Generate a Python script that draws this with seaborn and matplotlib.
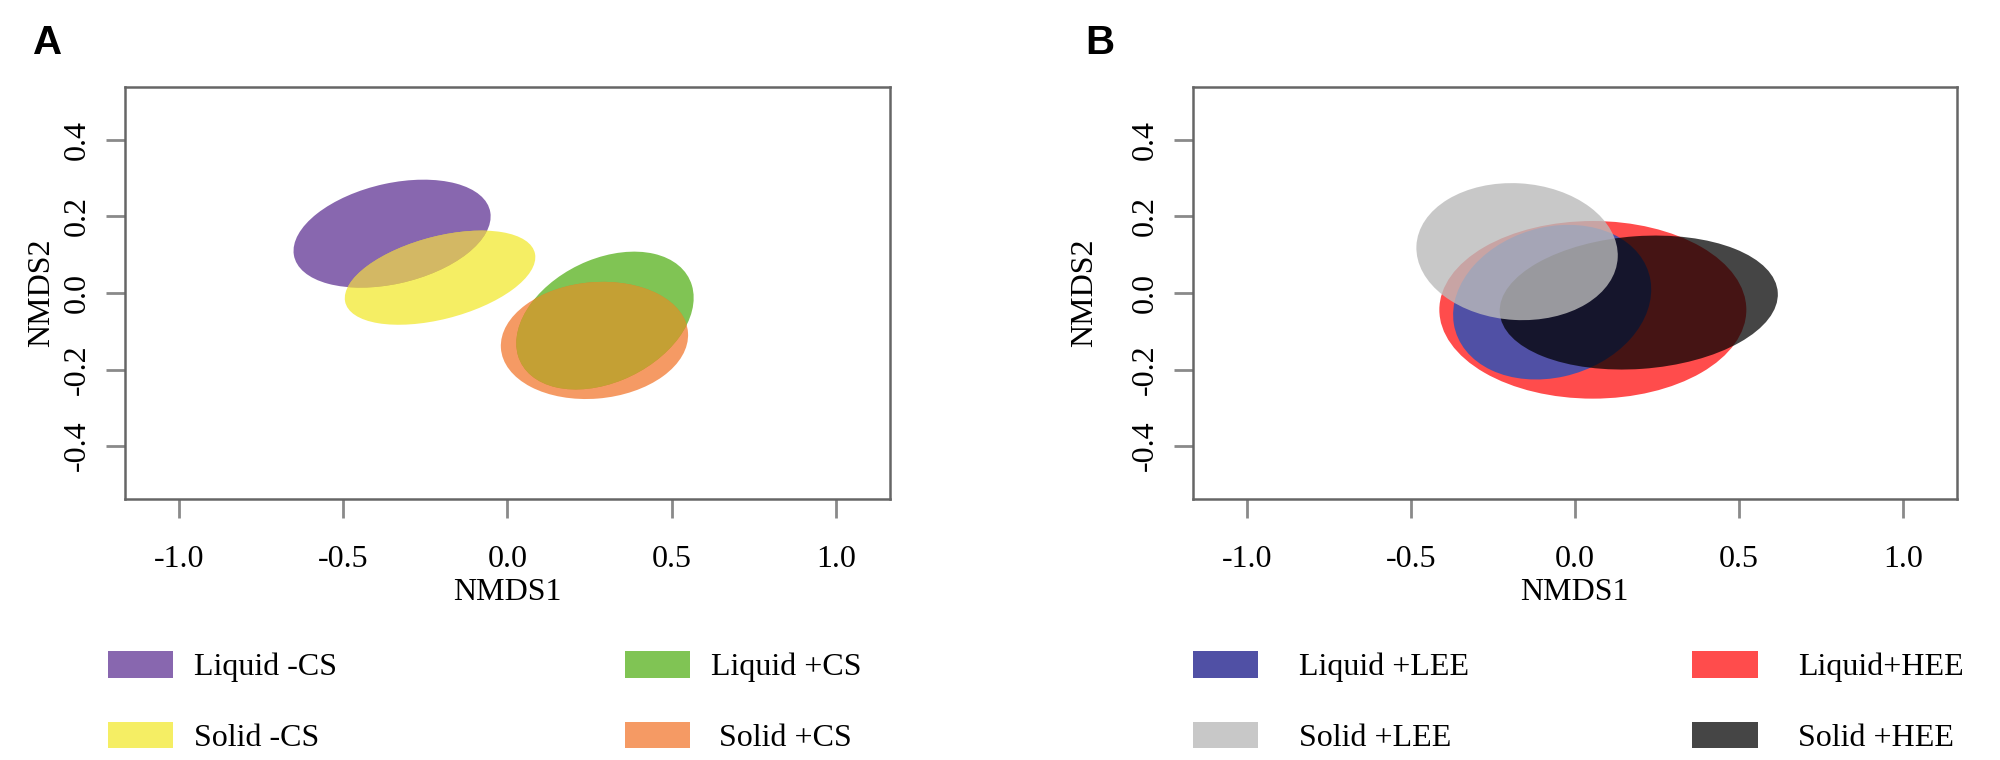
import numpy as np
import matplotlib
matplotlib.use("Agg")
import matplotlib.pyplot as plt
from matplotlib.patches import Ellipse, Patch
import seaborn as sns

# panel A: ordination ellipses (centre, half extent along x / y, covariance term)
groups_a = ["Liquid -CS", "Solid -CS", "Liquid +CS", " Solid +CS"]
cx_a = [-0.351, -0.205, 0.297, 0.265]
cy_a = [0.155, 0.040, -0.072, -0.124]
ex_a = [0.300, 0.290, 0.270, 0.285]
ey_a = [0.141, 0.123, 0.180, 0.153]
cxy_a = [0.0135, 0.0155, 0.016, 0.004]
colors_a = ["#56278D", "#F1E722", "#4AAB0B", "#F17022"]
alpha_a = [0.7, 0.7, 0.7, 0.7]
# colour where two ellipses overlap (index pairs into the lists above)
overlap_a = [(0, 1, "#D3B864"), (2, 3, "#C4A034")]

# panel B
groups_b = ["Liquid+HEE", "Liquid +LEE", "Solid +HEE", "Solid +LEE"]
cx_b = [0.055, -0.069, 0.195, -0.176]
cy_b = [-0.044, -0.024, -0.025, 0.108]
ex_b = [0.468, 0.302, 0.424, 0.307]
ey_b = [0.232, 0.202, 0.175, 0.179]
cxy_b = [0.0, 0.010, 0.009, -0.003]
colors_b = ["#FF0000", "#5050A5", "#000000", "#BBBBBB"]
alpha_b = [0.7, 1.0, 0.73, 0.8]

xticks = [-1.0, -0.5, 0.0, 0.5, 1.0]
yticks = [-0.4, -0.2, 0.0, 0.2, 0.4]

sns.set_theme(style="white")
plt.rcParams["font.family"] = ["Liberation Serif", "DejaVu Serif"]
plt.rcParams["axes.unicode_minus"] = False
plt.rcParams["text.color"] = "black"
plt.rcParams["axes.labelcolor"] = "black"

FS = 23


def make_ellipse(cx, cy, ex, ey, cxy, **kw):
    cov = np.array([[ex ** 2, cxy], [cxy, ey ** 2]])
    vals, vecs = np.linalg.eigh(cov)
    order = vals.argsort()[::-1]
    vals, vecs = vals[order], vecs[:, order]
    angle = np.degrees(np.arctan2(vecs[1, 0], vecs[0, 0]))
    return Ellipse((cx, cy), 2 * np.sqrt(vals[0]), 2 * np.sqrt(vals[1]),
                   angle=angle, edgecolor="none", **kw)


def style_axes(ax, ylab_x):
    ax.set_xlim(-1.164, 1.164)
    ax.set_ylim(-0.537, 0.539)
    ax.set_xticks(xticks)
    ax.set_yticks(yticks)
    ax.set_xticklabels([f"{t:.1f}" for t in xticks])
    ax.set_yticklabels([f"{t:.1f}" for t in yticks])
    ax.tick_params(axis="both", bottom=True, left=True, length=14, width=2,
                   color="#8a8a8a", labelsize=FS, labelcolor="black", direction="out")
    ax.tick_params(axis="x", pad=19.5)
    ax.tick_params(axis="y", pad=10, labelrotation=90)
    for lab in ax.get_yticklabels():
        lab.set_va("center")
    for s in ax.spines.values():
        s.set_color("#666666")
        s.set_linewidth(1.8)
    ax.set_xlabel("NMDS1", fontsize=FS)
    ax.set_ylabel("NMDS2", fontsize=FS)
    ax.xaxis.set_label_coords(0.5, -0.194)
    ax.yaxis.set_label_coords(ylab_x, 0.5)


fig = plt.figure(figsize=(20, 7.6), dpi=100)
ax_a = fig.add_axes([0.0625, 0.344, 0.3824, 0.542])
ax_b = fig.add_axes([0.5965, 0.344, 0.3818, 0.542])

for i in range(len(groups_a)):
    ax_a.add_patch(make_ellipse(cx_a[i], cy_a[i], ex_a[i], ey_a[i], cxy_a[i],
                                facecolor=colors_a[i], alpha=alpha_a[i]))
for i, j, col in overlap_a:
    top = make_ellipse(cx_a[j], cy_a[j], ex_a[j], ey_a[j], cxy_a[j], facecolor=col)
    clip = make_ellipse(cx_a[i], cy_a[i], ex_a[i], ey_a[i], cxy_a[i], facecolor="none")
    clip.set_transform(ax_a.transData)
    ax_a.add_patch(top)
    top.set_clip_path(clip)

for i in range(len(groups_b)):
    ax_b.add_patch(make_ellipse(cx_b[i], cy_b[i], ex_b[i], ey_b[i], cxy_b[i],
                                facecolor=colors_b[i], alpha=alpha_b[i]))

style_axes(ax_a, -0.0895)
style_axes(ax_b, -0.123)

# legends (two columns under each panel)
handles_a = [Patch(facecolor=colors_a[i], alpha=alpha_a[i], edgecolor="none") for i in range(4)]
ax_a.legend(handles_a, groups_a, ncol=2, loc="upper left",
            bbox_to_anchor=(108 / 2000, 1 - 651 / 760), bbox_transform=fig.transFigure,
            frameon=False, fontsize=FS, handlelength=2.04, handleheight=0.9,
            handletextpad=0.66, columnspacing=9.0, labelspacing=1.24,
            borderpad=0, borderaxespad=0)

order_b = [1, 3, 0, 2]
handles_b = [Patch(facecolor=colors_b[i], alpha=alpha_b[i], edgecolor="none") for i in order_b]
ax_b.legend(handles_b, [groups_b[i] for i in order_b], ncol=2, loc="upper left",
            bbox_to_anchor=(1193 / 2000, 1 - 651 / 760), bbox_transform=fig.transFigure,
            frameon=False, fontsize=FS, handlelength=2.04, handleheight=0.9,
            handletextpad=1.27, columnspacing=7.0, labelspacing=1.24,
            borderpad=0, borderaxespad=0)

fig.text(48 / 2000, 1 - 43 / 760, "A", ha="center", va="center", fontsize=29,
         fontweight="bold", color="black", family=["Liberation Sans", "DejaVu Sans"])
fig.text(1100 / 2000, 1 - 43 / 760, "B", ha="center", va="center", fontsize=29,
         fontweight="bold", color="black", family=["Liberation Sans", "DejaVu Sans"])

fig.savefig("out.png", dpi=100, facecolor="white")
